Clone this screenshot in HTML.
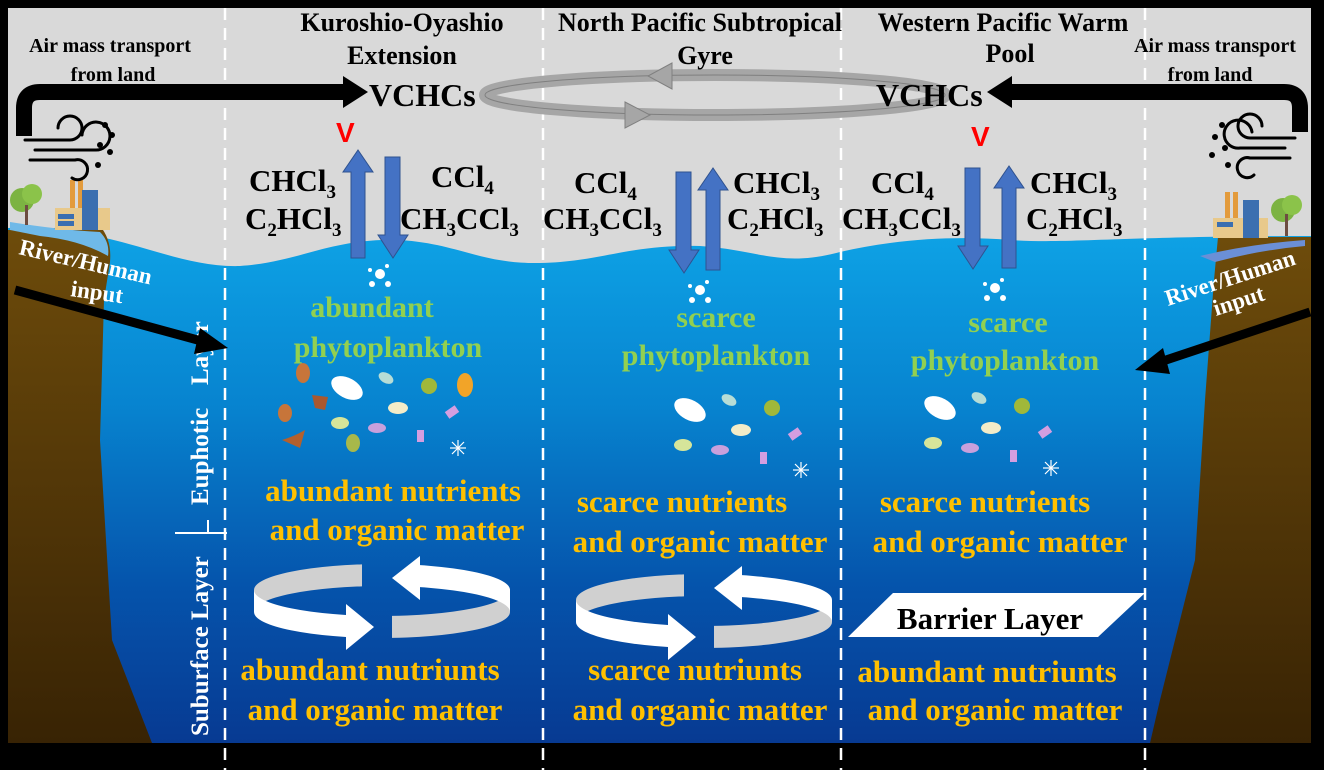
<!DOCTYPE html>
<html><head><meta charset="utf-8"><style>
html,body{margin:0;padding:0;background:#000;}
svg{display:block;}
text{font-family:"Liberation Serif",serif;font-weight:bold;}
</style></head><body>
<svg width="1324" height="770" viewBox="0 0 1324 770" xmlns="http://www.w3.org/2000/svg">
<defs>
<linearGradient id="wat" x1="0" y1="0" x2="0" y2="1">
<stop offset="0" stop-color="#0ea3e6"/><stop offset="0.35" stop-color="#0783cf"/><stop offset="0.7" stop-color="#0553ab"/><stop offset="1" stop-color="#073a92"/></linearGradient>
<linearGradient id="land" x1="0" y1="0" x2="0" y2="1">
<stop offset="0" stop-color="#6e4c0b"/><stop offset="1" stop-color="#382304"/></linearGradient>
<clipPath id="cl1"><rect x="240" y="540" width="106" height="120"/></clipPath>
<clipPath id="cl2"><rect x="240" y="540" width="122" height="120"/></clipPath>
<clipPath id="cr1"><rect x="392" y="540" width="130" height="120"/></clipPath>
<clipPath id="cr2"><rect x="418" y="540" width="104" height="120"/></clipPath>
</defs>
<rect x="0" y="0" width="1324" height="770" fill="#000"/>
<rect x="8" y="8" width="1303" height="735" fill="#d9d9d9"/>
<path d="M8,228 C120,226 170,268 240,266 C300,262 330,238 400,240 C460,244 480,264 540,263 C600,262 630,244 700,246 C760,250 780,268 840,252 C900,238 960,236 1010,240 C1070,244 1120,236 1311,236 L1311,743 L8,743Z" fill="url(#wat)"/>
<path d="M8,230 L100,226 Q112,240 110,262 L104,300 L100,440 L112,640 L152,743 L8,743Z" fill="url(#land)"/>
<path d="M10,222 Q60,230 100,232 Q110,242 108,256 Q80,240 40,236 Q20,232 10,230Z" fill="#6fb9e8"/>
<path d="M1218,237 L1311,237 L1311,743 L1150,743 L1160,700 L1195,560 L1205,400 L1214,280Z" fill="url(#land)"/>
<path d="M1200,256 Q1250,244 1305,240 L1305,246 Q1260,250 1215,262Z" fill="#6b8fd6"/>
<g>
<rect x="70" y="180" width="5" height="30" fill="#e39b3c"/><rect x="78" y="180" width="5" height="30" fill="#e39b3c"/>
<rect x="55" y="208" width="55" height="22" fill="#e8c98b"/><rect x="82" y="190" width="16" height="40" fill="#3b6fb0"/>
<rect x="58" y="214" width="16" height="5" fill="#3b6fb0"/><rect x="58" y="221" width="16" height="5" fill="#3b6fb0"/>
<circle cx="22" cy="200" r="12" fill="#7cb342"/><circle cx="32" cy="194" r="10" fill="#8bc34a"/><rect x="25" y="205" width="3" height="20" fill="#6d4c41"/>
<rect x="1225" y="192" width="5" height="30" fill="#e39b3c"/><rect x="1233" y="192" width="5" height="30" fill="#e39b3c"/>
<rect x="1213" y="218" width="55" height="20" fill="#e8c98b"/><rect x="1243" y="200" width="16" height="38" fill="#3b6fb0"/>
<rect x="1217" y="222" width="16" height="5" fill="#3b6fb0"/>
<circle cx="1283" cy="210" r="12" fill="#7cb342"/><circle cx="1292" cy="205" r="10" fill="#8bc34a"/><rect x="1285" y="214" width="3" height="22" fill="#6d4c41"/>
</g>
<g fill="none" stroke="#000" stroke-width="3" stroke-linecap="round">
<path d="M25,140 H70 A12,12 0 1 0 58,128"/><path d="M35,150 H95 A14,14 0 1 0 82,135"/><path d="M30,160 H75 A10,10 0 1 1 72,178"/>
<path d="M1295,138 H1250 A12,12 0 1 1 1262,126"/><path d="M1285,148 H1240 A14,14 0 1 1 1252,132"/><path d="M1290,158 H1250 A10,10 0 1 0 1254,175"/>
</g>
<g fill="#000"><circle cx="105" cy="125" r="3"/><circle cx="112" cy="135" r="3"/><circle cx="100" cy="145" r="3"/><circle cx="110" cy="152" r="3"/><circle cx="98" cy="165" r="3"/>
<circle cx="1222" cy="125" r="3"/><circle cx="1215" cy="137" r="3"/><circle cx="1225" cy="148" r="3"/><circle cx="1212" cy="155" r="3"/><circle cx="1228" cy="165" r="3"/></g>
<g stroke="#fff" stroke-width="2.5" stroke-dasharray="12,8">
<line x1="225" y1="8" x2="225" y2="770"/><line x1="543" y1="8" x2="543" y2="770"/><line x1="841" y1="8" x2="841" y2="770"/><line x1="1145" y1="8" x2="1145" y2="770"/>
</g>
<path d="M24,136 V108 Q24,92 40,92 H345" fill="none" stroke="#000" stroke-width="16"/>
<path d="M343,76 L368,92 L343,108Z" fill="#000"/>
<path d="M1300,132 V108 Q1300,92 1284,92 H1010" fill="none" stroke="#000" stroke-width="16"/>
<path d="M1012,76 L987,92 L1012,108Z" fill="#000"/>
<ellipse cx="715" cy="95" rx="230" ry="20" fill="none" stroke="#a6a6a6" stroke-width="12"/>
<ellipse cx="715" cy="95" rx="230" ry="20" fill="none" stroke="#7f7f7f" stroke-width="1"/>
<path d="M672,63 L648,76 L672,89Z" fill="#a6a6a6" stroke="#808080"/>
<path d="M625,102 L650,115 L625,128Z" fill="#a6a6a6" stroke="#808080"/>
<g font-size="26" fill="#000" text-anchor="middle">
<text x="402" y="31">Kuroshio-Oyashio</text><text x="402" y="64">Extension</text>
<text x="700" y="31">North Pacific Subtropical</text><text x="705" y="64">Gyre</text>
<text x="1003" y="31">Western Pacific Warm</text><text x="1010" y="62">Pool</text>
<text x="110" y="52" font-size="20">Air mass transport</text><text x="113" y="81" font-size="20">from land</text>
<text x="1215" y="52" font-size="20">Air mass transport</text><text x="1210" y="81" font-size="20">from land</text>
</g>
<g font-size="32" fill="#000"><text x="369" y="106">VCHCs</text><text x="876" y="106">VCHCs</text></g>
<g fill="#ff0000" font-size="28"><text x="336" y="142" style="font-family:'Liberation Sans',sans-serif">V</text><text x="971" y="146" style="font-family:'Liberation Sans',sans-serif">V</text></g>
<g fill="#4472c4" stroke="#2f528f" stroke-width="1">
<path d="M351,258 V172 H343 L358,150 L373,172 H365 V258Z"/>
<path d="M385,157 V235 H378 L393,258 L408,235 H400 V157Z"/>
<path d="M676,172 V250 H669 L684,273 L699,250 H691 V172Z"/>
<path d="M706,270 V190 H698 L713,168 L728,190 H720 V270Z"/>
<path d="M965,168 V246 H958 L973,269 L988,246 H980 V168Z"/>
<path d="M1002,268 V188 H994 L1009,166 L1024,188 H1016 V268Z"/>
</g>
<g font-size="31" fill="#000">
<text x="249" y="191">CHCl<tspan font-size="19" dy="7">3</tspan></text>
<text x="245" y="229">C<tspan font-size="19" dy="7">2</tspan><tspan dy="-7">HCl</tspan><tspan font-size="19" dy="7">3</tspan></text>
<text x="431" y="187">CCl<tspan font-size="19" dy="7">4</tspan></text>
<text x="400" y="229">CH<tspan font-size="19" dy="7">3</tspan><tspan dy="-7">CCl</tspan><tspan font-size="19" dy="7">3</tspan></text>
<text x="574" y="193">CCl<tspan font-size="19" dy="7">4</tspan></text>
<text x="543" y="229">CH<tspan font-size="19" dy="7">3</tspan><tspan dy="-7">CCl</tspan><tspan font-size="19" dy="7">3</tspan></text>
<text x="733" y="193">CHCl<tspan font-size="19" dy="7">3</tspan></text>
<text x="727" y="229">C<tspan font-size="19" dy="7">2</tspan><tspan dy="-7">HCl</tspan><tspan font-size="19" dy="7">3</tspan></text>
<text x="871" y="193">CCl<tspan font-size="19" dy="7">4</tspan></text>
<text x="842" y="229">CH<tspan font-size="19" dy="7">3</tspan><tspan dy="-7">CCl</tspan><tspan font-size="19" dy="7">3</tspan></text>
<text x="1030" y="193">CHCl<tspan font-size="19" dy="7">3</tspan></text>
<text x="1026" y="229">C<tspan font-size="19" dy="7">2</tspan><tspan dy="-7">HCl</tspan><tspan font-size="19" dy="7">3</tspan></text>
</g>
<g fill="#fff">
<circle cx="380" cy="274" r="5"/><circle cx="370" cy="270" r="2"/><circle cx="387" cy="266" r="2"/><circle cx="372" cy="284" r="3"/><circle cx="388" cy="284" r="3"/>
<circle cx="700" cy="290" r="5"/><circle cx="690" cy="286" r="2"/><circle cx="707" cy="282" r="2"/><circle cx="692" cy="300" r="3"/><circle cx="708" cy="300" r="3"/>
<circle cx="995" cy="288" r="5"/><circle cx="985" cy="284" r="2"/><circle cx="1002" cy="280" r="2"/><circle cx="987" cy="298" r="3"/><circle cx="1003" cy="298" r="3"/>
</g>
<g font-size="30" fill="#92d050" text-anchor="middle">
<text x="372" y="317">abundant</text><text x="388" y="357">phytoplankton</text>
<text x="716" y="327">scarce</text><text x="716" y="365">phytoplankton</text>
<text x="1008" y="332">scarce</text><text x="1005" y="370">phytoplankton</text>
</g>
<g id="pk">
<ellipse cx="347" cy="388" rx="17" ry="10" fill="#fff" transform="rotate(28 347 388)"/>
<ellipse cx="386" cy="378" rx="8" ry="5" fill="#b7ddd6" transform="rotate(30 386 378)"/>
<circle cx="429" cy="386" r="8" fill="#a0b83a"/>
<ellipse cx="398" cy="408" rx="10" ry="6" fill="#f3ecc8"/>
<ellipse cx="340" cy="423" rx="9" ry="6" fill="#d6e59a"/>
<ellipse cx="377" cy="428" rx="9" ry="5" fill="#c9a0dc"/>
<rect x="446" y="408" width="12" height="8" fill="#d49ee0" transform="rotate(-35 452 412)"/>
<rect x="417" y="430" width="7" height="12" fill="#d49ee0"/>
<g stroke="#fff" stroke-width="1.2"><line x1="450" y1="448" x2="466" y2="448"/><line x1="458" y1="440" x2="458" y2="456"/><line x1="452" y1="442" x2="464" y2="454"/><line x1="464" y1="442" x2="452" y2="454"/></g>
</g>
<ellipse cx="303" cy="373" rx="7" ry="10" fill="#c7753a"/>
<ellipse cx="465" cy="385" rx="8" ry="12" fill="#f2a428"/>
<path d="M312,395 L328,397 L325,410 L315,408Z" fill="#a9582f"/>
<ellipse cx="285" cy="413" rx="7" ry="9" fill="#c7753a"/>
<ellipse cx="353" cy="443" rx="7" ry="9" fill="#a8b84a"/>
<path d="M282,440 Q295,436 305,430 L300,448Z" fill="#b3602d"/>
<use href="#pk" transform="translate(343,22)"/>
<use href="#pk" transform="translate(593,20)"/>
<g font-size="31" fill="#ffc000" text-anchor="middle">
<text x="393" y="501">abundant nutrients</text><text x="397" y="540">and organic matter</text>
<text x="682" y="512">scarce nutrients</text><text x="700" y="552">and organic matter</text>
<text x="985" y="512">scarce nutrients</text><text x="1000" y="552">and organic matter</text>
<text x="370" y="680">abundant nutriunts</text><text x="375" y="720">and organic matter</text>
<text x="695" y="680">scarce nutriunts</text><text x="700" y="720">and organic matter</text>
<text x="987" y="682">abundant nutriunts</text><text x="995" y="720">and organic matter</text>
</g>
<g id="circ">
<g clip-path="url(#cl2)"><path d="M254,590 A128,26 0 0 1 510,590 L510,612 A128,26 0 0 0 254,612Z" fill="#d0d0d0"/></g>
<g clip-path="url(#cl1)"><path d="M254,590 A128,26 0 0 0 510,590 L510,612 A128,26 0 0 1 254,612Z" fill="#fff"/></g>
<path d="M346,604 L374,627 L346,650Z" fill="#fff"/>
<g clip-path="url(#cr1)"><path d="M254,590 A128,26 0 0 0 510,590 L510,612 A128,26 0 0 1 254,612Z" fill="#d0d0d0"/></g>
<g clip-path="url(#cr2)"><path d="M254,590 A128,26 0 0 1 510,590 L510,612 A128,26 0 0 0 254,612Z" fill="#fff"/></g>
<path d="M420,556 L392,578 L420,600Z" fill="#fff"/>
</g>
<use href="#circ" transform="translate(322,10)"/>
<path d="M848,637 L893,593 L1145,593 L1098,637Z" fill="#fff"/>
<text x="990" y="629" font-size="31" fill="#000" text-anchor="middle">Barrier Layer</text>
<g fill="#fff" font-size="25">
<text transform="translate(208,505) rotate(-90)">Euphotic</text>
<text transform="translate(208,385) rotate(-90)">Layer</text>
<text transform="translate(208,736) rotate(-90)">Suburface Layer</text>
</g>
<path d="M175,533 H227 M208,520 V533" stroke="#fff" stroke-width="2" fill="none"/>
<g fill="#fff" font-size="23">
<text transform="translate(18,254) rotate(13)">River/Human</text>
<text transform="translate(70,296) rotate(8)">input</text>
<text transform="translate(1168,306) rotate(-18)">River/Human</text>
<text transform="translate(1216,316) rotate(-18)">input</text>
</g>
<line x1="15" y1="290" x2="205" y2="342" stroke="#000" stroke-width="9"/>
<path d="M200,328 L228,348 L194,354Z" fill="#000"/>
<line x1="1310" y1="312" x2="1160" y2="362" stroke="#000" stroke-width="9"/>
<path d="M1163,348 L1135,370 L1170,374Z" fill="#000"/>
</svg>
</body></html>
